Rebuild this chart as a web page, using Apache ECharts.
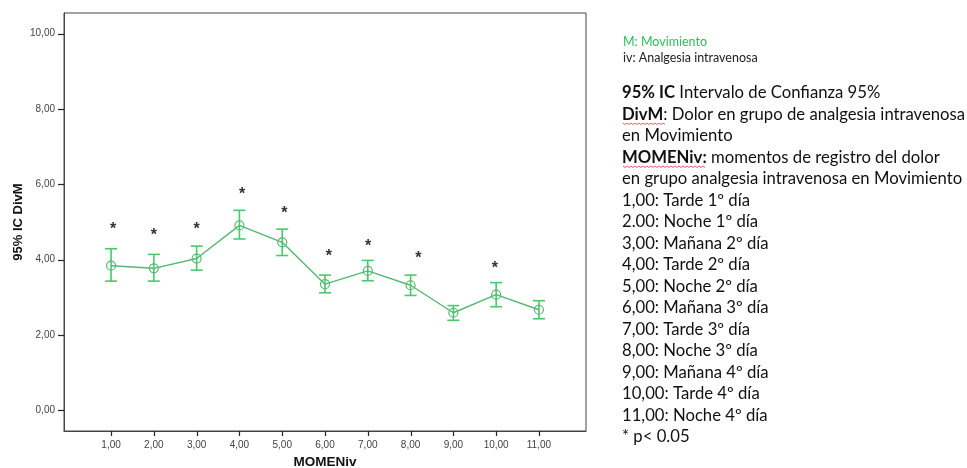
<!DOCTYPE html>
<html>
<head>
<meta charset="utf-8">
<script src="https://cdn.jsdelivr.net/npm/echarts@6/dist/echarts.min.js"></script>
<style>
  html, body { margin: 0; padding: 0; background: #fff; }
  #chart { width: 967px; height: 468px; }
</style>
</head>
<body>
<div id="chart"></div>
<script>
// Moments of pain recording (MOMENiv) and pain in movement (DivM), mean with 95% CI
const moments = [1, 2, 3, 4, 5, 6, 7, 8, 9, 10, 11];
const meanValues = [3.84, 3.77, 4.03, 4.91, 4.46, 3.35, 3.70, 3.32, 2.59, 3.07, 2.67];
const ciUpper = [4.29, 4.14, 4.36, 5.31, 4.81, 3.59, 3.98, 3.59, 2.78, 3.39, 2.91];
const ciLower = [3.43, 3.43, 3.72, 4.55, 4.11, 3.12, 3.44, 3.05, 2.39, 2.75, 2.43];
// moments with p < 0.05: where each asterisk sits
const sigX = [1.05, 2.0, 3.0, 4.06, 5.05, 6.09, 7.01, 8.18, 9.97];
const sigY = [4.79, 4.64, 4.79, 5.72, 5.21, 4.08, 4.35, 4.04, 3.75];
const xTicks = [1, 2, 3, 4, 5, 6, 7, 8, 9, 10, 11];
const yTicks = [0, 2, 4, 6, 8, 10];

const notes = [
  '{b|95% IC} Intervalo de Confianza 95%',
  '{b|DivM}: Dolor en grupo de analgesia intravenosa',
  'en Movimiento',
  '{b|MOMENiv:} momentos de registro del dolor',
  'en grupo analgesia intravenosa en Movimiento',
  '1,00: Tarde 1º día',
  '2.00: Noche 1º día',
  '3,00: Mañana 2º día',
  '4,00: Tarde 2º día',
  '5,00: Noche 2º día',
  '6,00: Mañana 3º día',
  '7,00: Tarde 3º día',
  '8,00: Noche 3º día',
  '9,00: Mañana 4º día',
  '10,00: Tarde 4º día',
  '11,00: Noche 4º día',
  '* p< 0.05'
];

const X_MIN = -0.1, X_MAX = 12.1, Y_MIN = -0.55, Y_MAX = 10.55;
const fmt = v => v.toFixed(2).replace('.', ',');
const green = '#55b873';
const barGreen = '#4cc86c';
const frameColor = '#444';
const tickColor = '#222';
const noteFont = 'Lato, "Open Sans", sans-serif';
const axisFont = 'Arial, "Liberation Sans", sans-serif';
const noteSize = 16.7;

const chart = echarts.init(document.getElementById('chart'), null, { renderer: 'canvas' });

const graphics = [
  { type: 'text', x: 623, y: 42, style: { text: 'M: Movimiento', fill: '#2dbf5a', font: '12.5px ' + noteFont, verticalAlign: 'middle' } },
  { type: 'text', x: 623, y: 58, style: { text: 'iv: Analgesia intravenosa', fill: '#222', font: '12.5px ' + noteFont, verticalAlign: 'middle' } }
];
notes.forEach((line, i) => {
  graphics.push({
    type: 'text', x: 622, y: 93 + i * 21.5,
    style: {
      text: line, fill: '#111', font: noteSize + 'px ' + noteFont, verticalAlign: 'middle',
      rich: { b: { fontWeight: 'bold', fontSize: noteSize, fontFamily: noteFont, fill: '#111' } }
    }
  });
});
// spell-check squiggles under the abbreviations
function squiggle(x0, x1, y) {
  const pts = [];
  for (let x = x0, k = 0; x <= x1; x += 2, k++) pts.push([x, y + (k % 2 ? 1.5 : 0)]);
  return { type: 'polyline', shape: { points: pts }, style: { stroke: '#e0303a', lineWidth: 0.8, fill: null } };
}
graphics.push(squiggle(623, 665, 123));
graphics.push(squiggle(623, 706, 166));

chart.setOption({
  animation: false,
  backgroundColor: '#fff',
  grid: {
    left: 64, top: 13, right: 381, bottom: 37,
    outerBoundsMode: 'none', containLabel: false,
    show: true, borderColor: frameColor, borderWidth: 1
  },
  xAxis: {
    type: 'value', min: X_MIN, max: X_MAX,
    name: 'MOMENiv', nameLocation: 'middle', nameGap: 24, nameMoveOverlap: false,
    nameTextStyle: { fontFamily: axisFont, fontWeight: 'bold', fontSize: 13.5, color: '#111' },
    axisLine: { show: true, onZero: false, lineStyle: { color: frameColor, width: 1 } },
    axisTick: { show: false },
    axisLabel: { customValues: xTicks, formatter: fmt, fontSize: 10, color: '#444', margin: 9, fontFamily: axisFont },
    splitLine: { show: false }
  },
  yAxis: {
    type: 'value', min: Y_MIN, max: Y_MAX,
    name: '95% IC DivM', nameLocation: 'middle', nameGap: 39, nameRotate: 90, nameMoveOverlap: false,
    nameTextStyle: { fontFamily: axisFont, fontWeight: 'bold', fontSize: 13, color: '#111' },
    axisLine: { show: true, onZero: false, lineStyle: { color: frameColor, width: 1 } },
    axisTick: { show: false },
    axisLabel: { customValues: yTicks, formatter: fmt, fontSize: 10, color: '#444', margin: 9, fontFamily: axisFont },
    splitLine: { show: false }
  },
  graphic: graphics,
  series: [
    {
      type: 'custom',
      name: 'IC 95%',
      data: moments.map((m, i) => [m, ciLower[i], ciUpper[i]]),
      renderItem: function (params, api) {
        const lo = api.coord([api.value(0), api.value(1)]);
        const hi = api.coord([api.value(0), api.value(2)]);
        const half = 6;
        const st = { stroke: barGreen, lineWidth: 1.6 };
        return {
          type: 'group',
          children: [
            { type: 'line', shape: { x1: lo[0], y1: lo[1], x2: hi[0], y2: hi[1] }, style: st },
            { type: 'line', shape: { x1: hi[0] - half, y1: hi[1], x2: hi[0] + half, y2: hi[1] }, style: st },
            { type: 'line', shape: { x1: lo[0] - half, y1: lo[1], x2: lo[0] + half, y2: lo[1] }, style: st }
          ]
        };
      },
      z: 2
    },
    {
      type: 'line',
      name: 'Media',
      data: moments.map((m, i) => [m, meanValues[i]]),
      symbol: 'circle', symbolSize: 9,
      itemStyle: { color: 'rgba(255,255,255,0)', borderColor: green, borderWidth: 1.2 },
      lineStyle: { color: green, width: 1.4 },
      z: 3
    },
    {
      type: 'custom',
      name: 'p<0.05',
      data: sigX.map((x, i) => [x, sigY[i]]),
      renderItem: function (params, api) {
        const p = api.coord([api.value(0), api.value(1)]);
        return {
          type: 'text',
          x: p[0], y: p[1],
          style: {
            text: '*', fill: '#333', font: 'bold 16px ' + axisFont,
            align: 'center', verticalAlign: 'middle'
          }
        };
      },
      z: 4
    }
  ]
});

// outward tick marks, positioned through the grid's own coordinate conversion
const tickGraphics = [];
xTicks.forEach(v => {
  const p = chart.convertToPixel({ gridIndex: 0 }, [v, Y_MIN]);
  const x = Math.round(p[0]) + 0.5, y = Math.round(p[1]);
  tickGraphics.push({ type: 'line', z: 10, shape: { x1: x, y1: y, x2: x, y2: y + 5 }, style: { stroke: tickColor, lineWidth: 1.2 } });
});
yTicks.forEach(v => {
  const p = chart.convertToPixel({ gridIndex: 0 }, [X_MIN, v]);
  const x = Math.round(p[0]), y = Math.round(p[1]) + 0.5;
  tickGraphics.push({ type: 'line', z: 10, shape: { x1: x - 6, y1: y, x2: x, y2: y }, style: { stroke: tickColor, lineWidth: 1.2 } });
});
chart.setOption({ graphic: graphics.concat(tickGraphics) });
</script>
</body>
</html>
